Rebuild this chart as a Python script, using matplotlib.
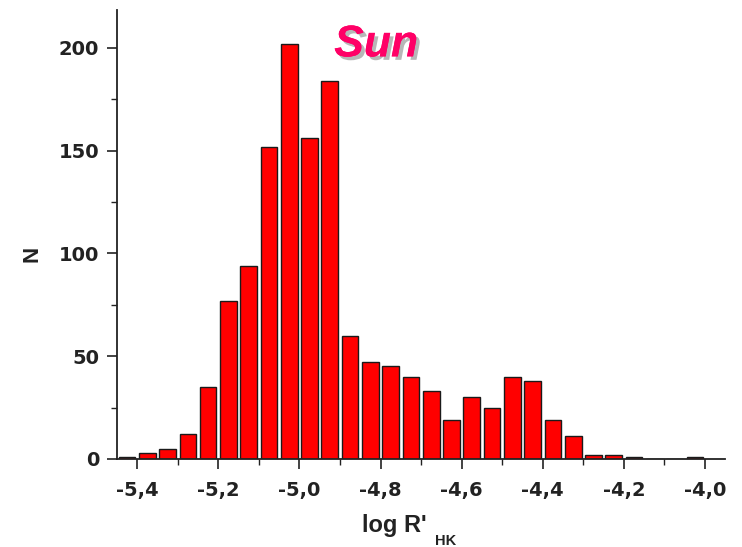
import matplotlib
matplotlib.use('Agg')
import matplotlib.pyplot as plt
import matplotlib.patheffects as pe
from matplotlib.ticker import MultipleLocator, FuncFormatter
import numpy as np

plt.rcParams['font.family'] = ['Liberation Sans', 'DejaVu Sans']

BIN_CENTERS = np.round(np.arange(-5.425, -4.0, 0.05), 3)
COUNTS = [1, 3, 5, 12, 35, 77, 94, 152, 202, 156, 184, 60, 47, 45, 40,
          33, 19, 30, 25, 40, 38, 19, 11, 2, 2, 1, 0, 0, 1]
X_TICKS = [-5.4, -5.2, -5.0, -4.8, -4.6, -4.4, -4.2, -4.0]
Y_TICKS = [0, 50, 100, 150, 200]

INK = '#222222'

fig = plt.figure(figsize=(7.42, 5.47), dpi=100)
ax = fig.add_axes([0.158, 0.161, 0.819, 0.821])

ax.bar(BIN_CENTERS, COUNTS, width=0.041, color='#ff0000',
       edgecolor='#1a1a1a', linewidth=1.0)

ax.set_xlim(-5.449, -3.951)
ax.set_ylim(0, 218.5)
ax.set_xticks(X_TICKS)
ax.set_yticks(Y_TICKS)
ax.xaxis.set_minor_locator(MultipleLocator(0.1))
ax.yaxis.set_minor_locator(MultipleLocator(25))
ax.xaxis.set_major_formatter(FuncFormatter(lambda v, _: f'{v:.1f}'.replace('.', ',')))

for s in ['top', 'right']:
    ax.spines[s].set_visible(False)
for s in ['left', 'bottom']:
    ax.spines[s].set_linewidth(1.3)
    ax.spines[s].set_color(INK)

ax.tick_params(which='major', direction='out', length=7, width=1.2,
               labelsize=14, colors=INK)
ax.tick_params(axis='x', which='major', pad=9)
ax.tick_params(axis='y', which='major', pad=6)
ax.tick_params(which='minor', direction='out', length=4, width=1.0, colors=INK)
for lbl in ax.get_xticklabels() + ax.get_yticklabels():
    lbl.set_fontweight('bold')
    lbl.set_family('DejaVu Sans')
    lbl.set_color(INK)

# axis labels placed by hand, as in the original figure
fig.text(32 / 742, 1 - 254 / 547, 'N', fontsize=16, fontweight='bold',
         color=INK, rotation=90, ha='center', va='center')
fig.text(362 / 742, 15 / 547, "log R'", fontsize=17, fontweight='bold',
         color=INK, ha='left', va='baseline')
fig.text(435 / 742, 2 / 547, 'HK', fontsize=10.5, fontweight='bold',
         color=INK, ha='left', va='baseline')

ax.text(0.426, 0.922, 'Sun', transform=ax.transAxes, ha='center', va='center',
        fontsize=32, fontweight='bold', fontstyle='italic', color='#ff0066',
        path_effects=[pe.withSimplePatchShadow(offset=(2.5, -2.5),
                                               shadow_rgbFace='#888888', alpha=0.6),
                      pe.Normal()])

plt.savefig('out.png', dpi=100)
plt.close()
